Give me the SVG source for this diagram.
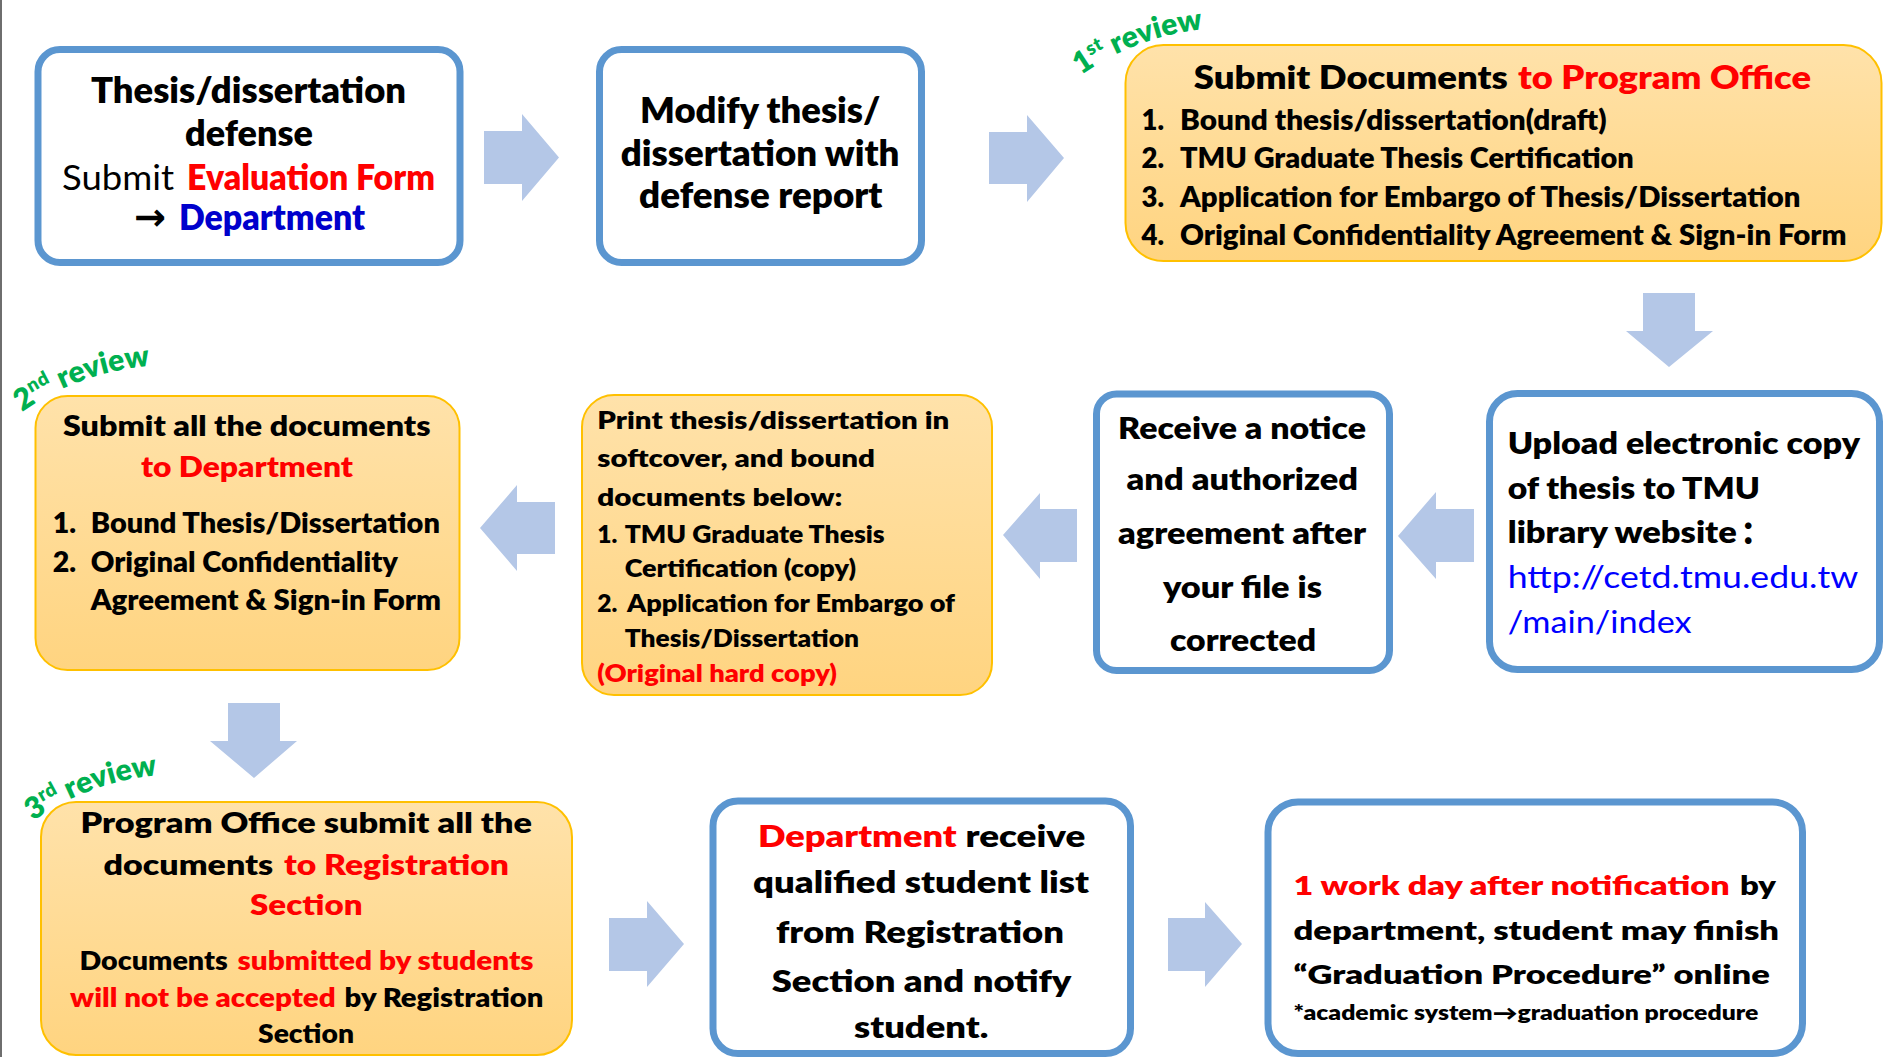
<svg xmlns="http://www.w3.org/2000/svg" width="1884" height="1057" viewBox="0 0 1884 1057">
<defs>
  <linearGradient id="og" x1="0" y1="0" x2="0" y2="1">
    <stop offset="0" stop-color="#FFE2AA"/>
    <stop offset="1" stop-color="#FFD480"/>
  </linearGradient>
  <!-- arched baselines for the review labels -->
  <path id="arc1" d="M1081,75 A260,260 0 0 1 1230.1,28"/>
  <path id="arc2" d="M22,412 A260,260 0 0 1 171.1,365"/>
  <path id="arc3" d="M33,821 A260,260 0 0 1 182.1,774"/>
  <style>
    text { font-family: Lato, "Liberation Sans", sans-serif; font-weight: 800; fill: #000; }
    .n { font-weight: 400; }
    .r { fill: #FF0000; }
    .b { fill: #0000CC; }
    .u { fill: #0000FF; font-weight: 400; }
    .g { fill: #00B050; font-size: 30px; }
    .sup { font-size: 19px; }
    .sym { font-family: "DejaVu Sans", sans-serif; font-weight: 700; }
    .bx { fill: #FFFFFF; stroke: #5B96D0; stroke-width: 7; }
    .ob { fill: url(#og); stroke: #FFC000; stroke-width: 2; }
    .ar { fill: #B4C7E7; }
  </style>
</defs>

<rect width="1884" height="1057" fill="#FFFFFF"/>
<line x1="1" y1="0" x2="1" y2="1057" stroke="#6E6E6E" stroke-width="2"/>

<!-- block arrows between steps -->
<g id="connectors">
  <polygon class="ar" points="484,131 522,131 522,114 559,157.5 522,201 522,184 484,184"/>
  <polygon class="ar" points="989,132 1027,132 1027,115 1064,158 1027,202 1027,184 989,184"/>
  <polygon class="ar" points="1643,293 1695,293 1695,331 1713,331 1669,367 1626,331 1643,331"/>
  <polygon class="ar" points="1474,509 1436,509 1436,492 1398,536 1436,579 1436,562 1474,562"/>
  <polygon class="ar" points="1077,509 1040,509 1040,493 1003,535 1040,579 1040,562 1077,562"/>
  <polygon class="ar" points="555,502 517,502 517,485 480,528 517,571 517,554 555,554"/>
  <polygon class="ar" points="228,703 280,703 280,741 297,741 254,778 210,741 228,741"/>
  <polygon class="ar" points="609,918 647,918 647,901 684,944 647,987 647,971 609,971"/>
  <polygon class="ar" points="1168,918 1205,918 1205,902 1242,944 1205,987 1205,971 1168,971"/>
</g>

<!-- review stage labels -->
<g id="labels">
  <text class="g"><textPath href="#arc1">1<tspan class="sup" dy="-11">st</tspan><tspan dy="11"> review</tspan></textPath></text>
  <text class="g"><textPath href="#arc2">2<tspan class="sup" dy="-11">nd</tspan><tspan dy="11"> review</tspan></textPath></text>
  <text class="g"><textPath href="#arc3">3<tspan class="sup" dy="-11">rd</tspan><tspan dy="11"> review</tspan></textPath></text>
</g>

<!-- step 1: defense -->
<g id="n1" font-size="35">
  <rect class="bx" x="38" y="49.5" width="422" height="213" rx="22"/>
  <text x="91" y="103" textLength="315" lengthAdjust="spacingAndGlyphs">Thesis/dissertation</text>
  <text x="185" y="146" textLength="128" lengthAdjust="spacingAndGlyphs">defense</text>
  <text class="n" x="62" y="190" textLength="112" lengthAdjust="spacingAndGlyphs">Submit</text>
  <text class="r" x="187" y="190" textLength="248" lengthAdjust="spacingAndGlyphs">Evaluation Form</text>
  <text class="sym" x="134" y="230" font-size="38" textLength="32" lengthAdjust="spacingAndGlyphs">→</text>
  <text class="b" x="179" y="230" textLength="186" lengthAdjust="spacingAndGlyphs">Department</text>
</g>

<!-- step 2: modify -->
<g id="n2" font-size="35.5">
  <rect class="bx" x="599.5" y="49.5" width="322" height="213" rx="22"/>
  <text x="640" y="123" textLength="240.5" lengthAdjust="spacingAndGlyphs">Modify thesis/</text>
  <text x="620.7" y="166" textLength="278.8" lengthAdjust="spacingAndGlyphs">dissertation with</text>
  <text x="639" y="208" textLength="243.5" lengthAdjust="spacingAndGlyphs">defense report</text>
</g>

<!-- step 3: program office, 1st review -->
<g id="n3">
  <rect class="ob" x="1125.5" y="45" width="756" height="216" rx="38"/>
  <g font-size="32">
    <text x="1193.8" y="89" textLength="314" lengthAdjust="spacingAndGlyphs">Submit Documents</text>
    <text class="r" x="1518" y="89" textLength="293" lengthAdjust="spacingAndGlyphs">to Program Office</text>
  </g>
  <g font-size="27.5">
    <text x="1141.5" y="130">1.</text>
    <text x="1180" y="130" textLength="426.6" lengthAdjust="spacingAndGlyphs">Bound thesis/dissertation(draft)</text>
    <text x="1141.5" y="168.3">2.</text>
    <text x="1180" y="168.3" textLength="453.8" lengthAdjust="spacingAndGlyphs">TMU Graduate Thesis Certification</text>
    <text x="1141.5" y="206.7">3.</text>
    <text x="1180" y="206.7" textLength="620.5" lengthAdjust="spacingAndGlyphs">Application for Embargo of Thesis/Dissertation</text>
    <text x="1141.5" y="244.5">4.</text>
    <text x="1180" y="244.5" textLength="666.6" lengthAdjust="spacingAndGlyphs">Original Confidentiality Agreement &amp; Sign-in Form</text>
  </g>
</g>

<!-- step 4: upload electronic copy -->
<g id="n7" font-size="31">
  <rect class="bx" x="1489.5" y="393.5" width="390" height="276" rx="28"/>
  <text x="1507.7" y="454" textLength="352.3" lengthAdjust="spacingAndGlyphs">Upload electronic copy</text>
  <text x="1507.7" y="499.3" textLength="252.3" lengthAdjust="spacingAndGlyphs">of thesis to TMU</text>
  <text x="1507.7" y="543.3" textLength="229" lengthAdjust="spacingAndGlyphs">library website</text>
  <text x="1756" y="543.3" text-anchor="middle" style="font-family: 'Noto Sans CJK SC', sans-serif;">：</text>
  <text class="u" x="1507.7" y="588.3" textLength="350.6" lengthAdjust="spacingAndGlyphs">http://cetd.tmu.edu.tw</text>
  <text class="u" x="1507.7" y="632.7" textLength="184" lengthAdjust="spacingAndGlyphs">/main/index</text>
</g>

<!-- step 5: notice received -->
<g id="n6" font-size="31">
  <rect class="bx" x="1096.5" y="394" width="293" height="276.5" rx="20"/>
  <text x="1118" y="438.5" textLength="248" lengthAdjust="spacingAndGlyphs">Receive a notice</text>
  <text x="1126.6" y="490" textLength="231.4" lengthAdjust="spacingAndGlyphs">and authorized</text>
  <text x="1118" y="544" textLength="248" lengthAdjust="spacingAndGlyphs">agreement after</text>
  <text x="1163" y="598" textLength="159" lengthAdjust="spacingAndGlyphs">your file is</text>
  <text x="1170" y="650.7" textLength="146" lengthAdjust="spacingAndGlyphs">corrected</text>
</g>

<!-- step 6: print and bind -->
<g id="n5" font-size="24.5">
  <rect class="ob" x="582" y="395" width="410" height="300" rx="32"/>
  <text x="597.3" y="429" textLength="352" lengthAdjust="spacingAndGlyphs">Print thesis/dissertation in</text>
  <text x="597.3" y="467" textLength="277.7" lengthAdjust="spacingAndGlyphs">softcover, and bound</text>
  <text x="597.3" y="506" textLength="245" lengthAdjust="spacingAndGlyphs">documents below:</text>
  <text x="597.3" y="542.7">1.</text>
  <text x="624.7" y="542.7" textLength="260" lengthAdjust="spacingAndGlyphs">TMU Graduate Thesis</text>
  <text x="624.7" y="576.7" textLength="231.3" lengthAdjust="spacingAndGlyphs">Certification (copy)</text>
  <text x="597.3" y="611.7">2.</text>
  <text x="627" y="611.7" textLength="328" lengthAdjust="spacingAndGlyphs">Application for Embargo of</text>
  <text x="624.7" y="646.7" textLength="234.3" lengthAdjust="spacingAndGlyphs">Thesis/Dissertation</text>
  <text class="r" x="597.3" y="681.7" textLength="239.7" lengthAdjust="spacingAndGlyphs">(Original hard copy)</text>
</g>

<!-- step 7: department, 2nd review -->
<g id="n4" font-size="28.5">
  <rect class="ob" x="35.5" y="396" width="424" height="274" rx="32"/>
  <text x="63" y="436" textLength="367.5" lengthAdjust="spacingAndGlyphs">Submit all the documents</text>
  <text class="r" x="141" y="476.7" textLength="212" lengthAdjust="spacingAndGlyphs">to Department</text>
  <text x="52.8" y="533">1.</text>
  <text x="90.7" y="533" textLength="349.3" lengthAdjust="spacingAndGlyphs">Bound Thesis/Dissertation</text>
  <text x="52.8" y="571.7">2.</text>
  <text x="90.7" y="571.7" textLength="307.3" lengthAdjust="spacingAndGlyphs">Original Confidentiality</text>
  <text x="90.7" y="610" textLength="350.3" lengthAdjust="spacingAndGlyphs">Agreement &amp; Sign-in Form</text>
</g>

<!-- step 8: registration section, 3rd review -->
<g id="n8">
  <rect class="ob" x="41" y="802" width="531" height="253" rx="35"/>
  <g font-size="28">
    <text x="80.4" y="833.3" textLength="451.6" lengthAdjust="spacingAndGlyphs">Program Office submit all the</text>
    <text x="103.6" y="875" textLength="169.6" lengthAdjust="spacingAndGlyphs">documents</text>
    <text class="r" x="284" y="875" textLength="225" lengthAdjust="spacingAndGlyphs">to Registration</text>
    <text class="r" x="250" y="915" textLength="112.5" lengthAdjust="spacingAndGlyphs">Section</text>
  </g>
  <g font-size="25.5">
    <text x="79.5" y="970" textLength="148.2" lengthAdjust="spacingAndGlyphs">Documents</text>
    <text class="r" x="237.5" y="970" textLength="296" lengthAdjust="spacingAndGlyphs">submitted by students</text>
    <text class="r" x="70" y="1006.7" textLength="265.7" lengthAdjust="spacingAndGlyphs">will not be accepted</text>
    <text x="344.6" y="1006.7" textLength="198.7" lengthAdjust="spacingAndGlyphs">by Registration</text>
    <text x="258" y="1043.3" textLength="96" lengthAdjust="spacingAndGlyphs">Section</text>
  </g>
</g>

<!-- step 9: department notifies -->
<g id="n9" font-size="30">
  <rect class="bx" x="713" y="801" width="417.5" height="252.5" rx="25"/>
  <text class="r" x="757.9" y="846.7" textLength="198.9" lengthAdjust="spacingAndGlyphs">Department</text>
  <text x="965.5" y="846.7" textLength="119.8" lengthAdjust="spacingAndGlyphs">receive</text>
  <text x="753" y="893.3" textLength="336" lengthAdjust="spacingAndGlyphs">qualified student list</text>
  <text x="776" y="943.3" textLength="288" lengthAdjust="spacingAndGlyphs">from Registration</text>
  <text x="771.7" y="991.7" textLength="299.7" lengthAdjust="spacingAndGlyphs">Section and notify</text>
  <text x="854" y="1038.3" textLength="134.4" lengthAdjust="spacingAndGlyphs">student.</text>
</g>

<!-- step 10: graduation procedure -->
<g id="n10" font-size="26">
  <rect class="bx" x="1268" y="802" width="534.5" height="251.5" rx="30"/>
  <text class="r" x="1293.4" y="895" textLength="436.2" lengthAdjust="spacingAndGlyphs">1 work day after notification</text>
  <text x="1740" y="895" textLength="36" lengthAdjust="spacingAndGlyphs">by</text>
  <text x="1293.4" y="940" textLength="485.6" lengthAdjust="spacingAndGlyphs">department, student may finish</text>
  <text x="1293.4" y="984" textLength="476.4" lengthAdjust="spacingAndGlyphs">“Graduation Procedure” online</text>
  <text x="1293.4" y="1020" font-size="20" textLength="464.9" lengthAdjust="spacingAndGlyphs">*academic system→graduation procedure</text>
</g>
</svg>
